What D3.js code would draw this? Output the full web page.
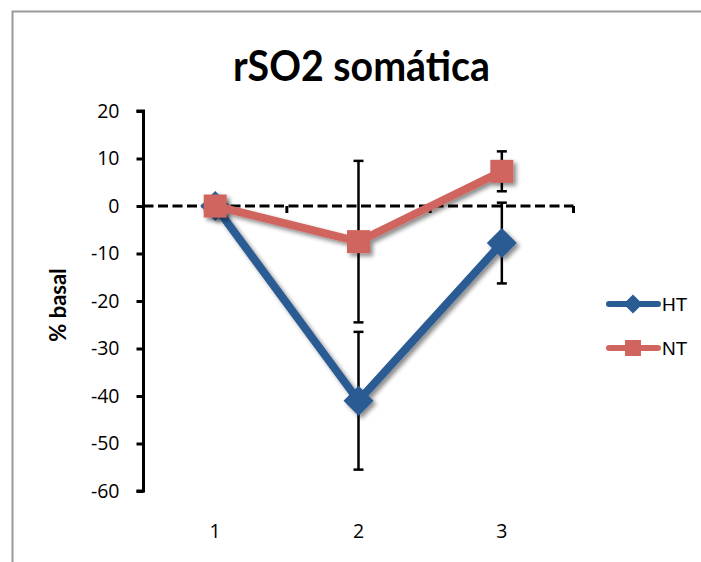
<!DOCTYPE html>
<html>
<head>
<meta charset="utf-8">
<script src="https://cdn.jsdelivr.net/npm/d3@7"></script>
<style>
  html, body { margin: 0; padding: 0; background: #fff; }
  svg { display: block; }
</style>
</head>
<body>
<svg id="chart" width="701" height="562"></svg>
<script>
// Chart data
const categories = ["1", "2", "3"];
const seriesNames = ["HT", "NT"];
const htValues = [0, -41, -7.8];
const ntValues = [0, -7.5, 7.3];
const htErrors = [0, 14.5, 8.5];
const ntErrors = [0, 17, 4.2];
const yTicks = [20, 10, 0, -10, -20, -30, -40, -50, -60];
const colors = { HT: "#2A5C93", NT: "#D0655F" };

const series = [
  { name: seriesNames[0], values: htValues, errors: htErrors, color: colors.HT, marker: "diamond" },
  { name: seriesNames[1], values: ntValues, errors: ntErrors, color: colors.NT, marker: "square" }
];

const svg = d3.select("#chart");

// drop shadow used by series lines and markers
const defs = svg.append("defs");
const f = defs.append("filter").attr("id", "shadow")
  .attr("x", "-20%").attr("y", "-20%").attr("width", "140%").attr("height", "140%");
f.append("feDropShadow").attr("dx", 3).attr("dy", 3).attr("stdDeviation", 2)
  .attr("flood-color", "#000").attr("flood-opacity", 0.45);

// outer frame
svg.append("rect").attr("x", 12.5).attr("y", 11.5).attr("width", 900).attr("height", 900)
  .attr("fill", "none").attr("stroke", "#9a9a9a").attr("stroke-width", 2);

const plot = { left: 143.5, right: 573.5, top: 111, bottom: 491 };

const x = d3.scaleBand().domain(categories).range([plot.left, plot.right]);
const y = d3.scaleLinear().domain([-60, 20]).range([plot.bottom, plot.top]);
const cx = c => x(c) + x.bandwidth() / 2;

// title
svg.append("text").attr("x", 361.5).attr("y", 81)
  .attr("text-anchor", "middle")
  .attr("font-family", "Lato, 'Open Sans', sans-serif").attr("font-weight", "bold")
  .attr("font-size", 42).attr("textLength", 257).attr("lengthAdjust", "spacingAndGlyphs")
  .attr("fill", "#000").text("rSO2 somática");

// y axis
const yAxis = d3.axisLeft(y).tickValues(yTicks).tickSize(7).tickPadding(17)
  .tickFormat(d => String(d));
const gy = svg.append("g").attr("transform", `translate(${plot.left},0)`).call(yAxis);
gy.select(".domain").attr("stroke", "#000").attr("stroke-width", 3)
  .attr("d", `M-7,${y(20)}H0V${y(-60)}H-7`);
gy.selectAll(".tick line").attr("stroke", "#000").attr("stroke-width", 3);
gy.selectAll(".tick text").attr("font-family", "'Open Sans', sans-serif").attr("font-size", 19.5)
  .attr("fill", "#000");

// y axis title
svg.append("text")
  .attr("transform", `translate(66,305) rotate(-90)`)
  .attr("text-anchor", "middle")
  .attr("font-family", "Lato, 'Open Sans', sans-serif").attr("font-weight", "bold")
  .attr("font-size", 22).attr("fill", "#000").text("% basal");

// x axis along zero, dashed
const gx = svg.append("g").attr("transform", `translate(0,${y(0)})`);
gx.append("line").attr("x1", plot.left).attr("x2", plot.right)
  .attr("stroke", "#000").attr("stroke-width", 3).attr("stroke-dasharray", "10,4.5");
const boundaries = categories.map(c => x(c) + x.bandwidth());
gx.selectAll("line.tick").data(boundaries).join("line").attr("class", "tick")
  .attr("x1", d => d).attr("x2", d => d).attr("y1", 0).attr("y2", 7)
  .attr("stroke", "#000").attr("stroke-width", 3);

// category labels below the plot
svg.append("g").selectAll("text").data(categories).join("text")
  .attr("x", d => cx(d)).attr("y", 538).attr("text-anchor", "middle")
  .attr("font-family", "'Open Sans', sans-serif").attr("font-size", 19.5).attr("fill", "#000")
  .text(d => d);

// error bars
const capW = 5;
series.forEach(s => {
  const g = svg.append("g");
  s.values.forEach((v, i) => {
    const e = s.errors[i];
    if (!e) return;
    const xx = cx(categories[i]);
    g.append("line").attr("x1", xx).attr("x2", xx).attr("y1", y(v + e)).attr("y2", y(v - e))
      .attr("stroke", "#000").attr("stroke-width", 2.5);
    [v + e, v - e].forEach(t => g.append("line")
      .attr("x1", xx - capW).attr("x2", xx + capW).attr("y1", y(t)).attr("y2", y(t))
      .attr("stroke", "#000").attr("stroke-width", 2.5));
  });
});

function markerPath(type, size) {
  const h = size / 2;
  if (type === "square") return `M${-h},${-h}H${h}V${h}H${-h}Z`;
  return `M0,${-h}L${h},0L0,${h}L${-h},0Z`;
}

// series lines and markers
const line = d3.line().x((d, i) => cx(categories[i])).y(d => y(d));
series.forEach(s => {
  const g = svg.append("g").attr("filter", "url(#shadow)");
  g.append("path").attr("d", line(s.values)).attr("fill", "none")
    .attr("stroke", s.color).attr("stroke-width", 8).attr("stroke-linejoin", "round");
  g.selectAll("path.mk").data(s.values).join("path").attr("class", "mk")
    .attr("transform", (d, i) => `translate(${cx(categories[i])},${y(d)})`)
    .attr("d", markerPath(s.marker, s.marker === "square" ? 23 : 30))
    .attr("fill", s.color);
});

// legend
const legend = svg.append("g");
series.forEach((s, i) => {
  const ly = 304 + i * 44;
  const g = legend.append("g");
  g.append("line").attr("x1", 609).attr("x2", 658).attr("y1", ly).attr("y2", ly)
    .attr("stroke", s.color).attr("stroke-width", 6).attr("stroke-linecap", "round");
  g.append("path").attr("transform", `translate(633,${ly})`)
    .attr("d", markerPath(s.marker, s.marker === "square" ? 16 : 19)).attr("fill", s.color);
  g.append("text").attr("x", 662).attr("y", ly + 7)
    .attr("font-family", "'Liberation Sans', Arial, sans-serif").attr("font-size", 19)
    .attr("fill", "#000").text(s.name);
});
</script>
</body>
</html>
